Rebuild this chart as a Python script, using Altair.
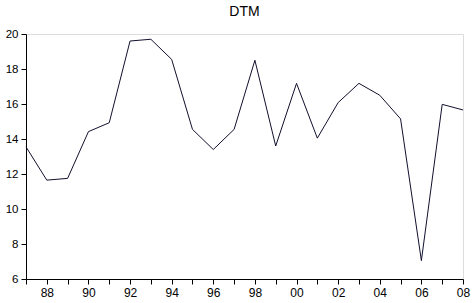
import altair as alt
import pandas as pd

years = list(range(1987, 2009))
dtm = [13.55, 11.65, 11.75, 14.42, 14.93, 19.6, 19.7, 18.55, 14.55, 13.4,
       14.55, 18.5, 13.6, 17.18, 14.05, 16.08, 17.18, 16.5, 15.15, 7.05,
       15.98, 15.66]
y_ticks = [6, 8, 10, 12, 14, 16, 18, 20]

df = pd.DataFrame({"year": years, "DTM": dtm})

FONT = "Liberation Sans"

chart = alt.Chart(df).mark_line(color="#10102e", strokeWidth=1).encode(
    x=alt.X("year:Q",
            scale=alt.Scale(domain=[1987, 2008], nice=False, zero=False),
            axis=alt.Axis(values=years, title=None, grid=False,
                          labelExpr="datum.value % 2 == 0 ? slice(toString(datum.value), 2) : ''",
                          tickSize=5, labelPadding=3, domainColor="black",
                          tickColor="black", labelColor="black", labelFont=FONT,
                          labelFontSize=12, labelFlush=False, labelOverlap=False)),
    y=alt.Y("DTM:Q",
            scale=alt.Scale(domain=[6, 20], nice=False, zero=False),
            axis=alt.Axis(values=y_ticks, title=None, grid=False,
                          tickSize=5, labelPadding=3, domainColor="black",
                          tickColor="black", labelColor="black", labelFont=FONT,
                          labelFontSize=11.5, labelFlush=False, labelOverlap=False)),
).properties(
    width=437,
    height=245,
    title=alt.TitleParams("DTM", font=FONT, fontSize=14, fontWeight="normal",
                          color="black", offset=6, dy=8, baseline="alphabetic"),
    autosize="none",
    padding={"left": 26, "top": 34, "right": 9, "bottom": 24},
).configure_view(stroke="black", strokeWidth=1).configure(background="white")

chart.save("out.html", embed_options={"renderer": "svg", "actions": False})
